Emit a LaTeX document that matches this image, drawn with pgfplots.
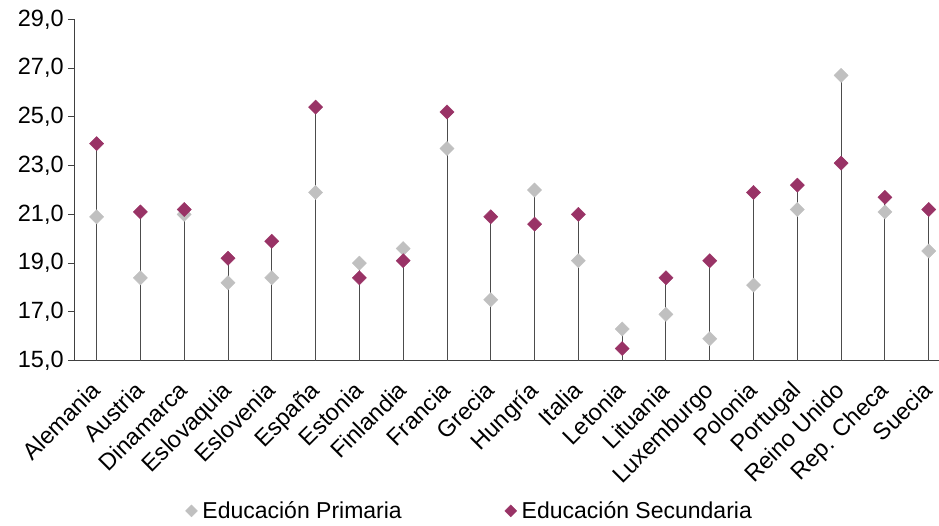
\documentclass[border=0pt]{standalone}
\usepackage{pgfplots}
\usepackage{pgfplotstable}
\pgfplotsset{compat=1.18}
\usepackage{fontspec}
\setmainfont{Liberation Sans}
\definecolor{sec}{HTML}{993366}
\definecolor{prim}{HTML}{C0C0C0}
\newcommand\f{\fontsize{23.5pt}{27pt}\selectfont}
\newcommand\fl{\fontsize{23pt}{27pt}\selectfont}
\pgfplotstableread{
x prim sec mx
0 20.9 23.9 23.9
1 18.4 21.1 21.1
2 21.0 21.2 21.2
3 18.2 19.2 19.2
4 18.4 19.9 19.9
5 21.9 25.4 25.4
6 19.0 18.4 19.0
7 19.6 19.1 19.6
8 23.7 25.2 25.2
9 17.5 20.9 20.9
10 22.0 20.6 22.0
11 19.1 21.0 21.0
12 16.3 15.5 16.3
13 16.9 18.4 18.4
14 15.9 19.1 19.1
15 18.1 21.9 21.9
16 21.2 22.2 22.2
17 26.7 23.1 26.7
18 21.1 21.7 21.7
19 19.5 21.2 21.2
}\data
\begin{document}
\begin{tikzpicture}[x=1pt,y=1pt]
\useasboundingbox (-74.7,-164.3) rectangle (864.3,360.7);
\begin{axis}[
  scale only axis, width=864.3pt, height=341.4pt,
  at={(0,0)}, anchor=south west,
  xmin=-0.5, xmax=19.235, ymin=15, ymax=29,
  axis lines=left,
  axis line style={-, black!75, line width=0.9pt},
  ytick={15,17,...,29},
  tick align=outside, major tick length=6.5pt,
  ytick style={black!75, line width=0.9pt},
  xtick={0,...,19}, xtick style={draw=none},
  xticklabels={Alemania,Austria,Dinamarca,Eslovaquia,Eslovenia,España,Estonia,Finlandia,Francia,Grecia,Hungría,Italia,Letonia,Lituania,Luxemburgo,Polonia,Portugal,Reino Unido,Rep. Checa,Suecia},
  x tick label style={xshift=-7pt, yshift=-11pt, rotate=45, anchor=north east, inner sep=1pt, font=\f},
  y tick label style={font=\f, xshift=-1pt},
  yticklabel style={/pgf/number format/fixed, /pgf/number format/fixed zerofill, /pgf/number format/precision=1, /pgf/number format/use comma},
  /pgf/number format/assume math mode=true,
  legend columns=2,
  legend style={at={(axis description cs:0.128,-0.44)}, anchor=west, draw=none, inner sep=0pt, font=\fl,
    /tikz/every even column/.append style={column sep=101pt},
    /tikz/every odd column/.append style={column sep=3pt}},
  legend image code/.code={\draw[#1, mark size=4.2pt] plot coordinates {(0pt,0pt)};},
  clip=true,
]
\addplot[ycomb, black!70, line width=0.9pt, no marks, forget plot] table[x=x,y=mx]{\data};
\addplot[only marks, mark=square*, mark size=5pt, mark options={rotate=45, fill=prim, draw=prim}] table[x=x,y=prim]{\data};
\addlegendentry{Educación Primaria}
\addplot[only marks, mark=square*, mark size=5pt, mark options={rotate=45, fill=sec, draw=sec}] table[x=x,y=sec]{\data};
\addlegendentry{Educación Secundaria}
\end{axis}
\end{tikzpicture}
\end{document}
